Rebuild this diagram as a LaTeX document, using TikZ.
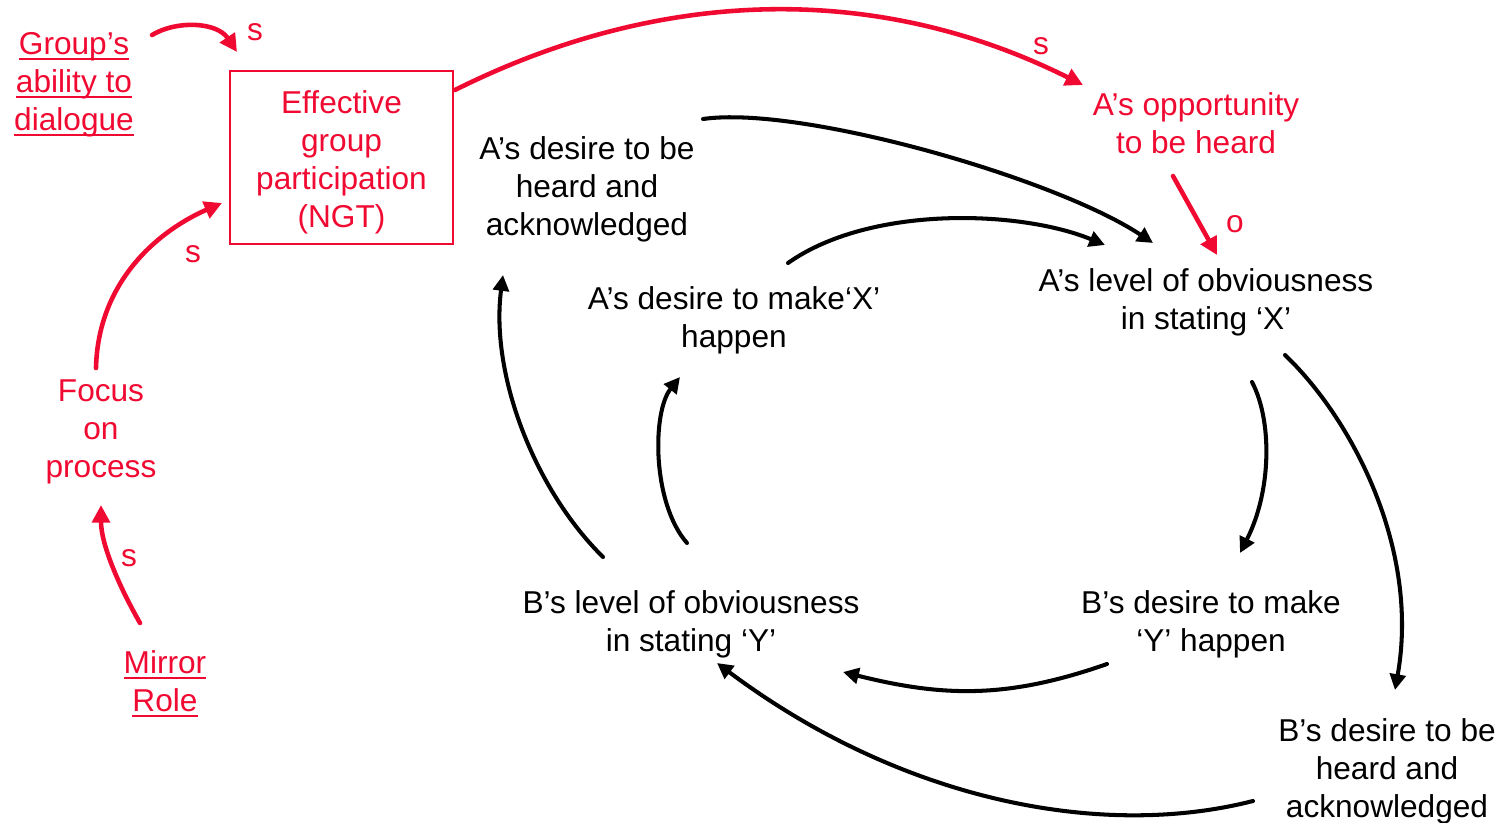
\documentclass[tikz,border=0pt]{standalone}
\usepackage{fontspec}
\setmainfont{Liberation Sans}
\usetikzlibrary{arrows.meta}
\definecolor{cldred}{RGB}{240,10,50}
\newcommand{\ulword}[1]{\setbox0\hbox{#1}\rlap{\rule[-3.3pt]{\wd0}{1.3pt}}\box0}
\newcommand{\tpad}{\rule{0pt}{17pt}}
\begin{document}
\begin{tikzpicture}[x=0.02cm,y=-0.02cm,
	every node/.style={font=\fontsize{18}{21.6}\selectfont,align=center,inner sep=0pt},
	rtxt/.style={text=cldred},
	rarr/.style={cldred,line width=2.6pt,line cap=round,-{Triangle[length=10pt,width=10pt]}},
	barr/.style={black,line width=2.3pt,line cap=round,-{Triangle[length=9pt,width=9pt]}}]
				\useasboundingbox (0,0) rectangle (1501,822);
				\node[rtxt] (grp) at (74,80) {\rule{0pt}{17.6pt}\ulword{Group’s}\\\ulword{ability to}\\\ulword{dialogue}};
				\node[rtxt,draw=cldred,line width=1.1pt,minimum width=4.46cm,minimum height=3.46cm] (ngt) at (341.5,157.5) {\rule{0pt}{19pt}Effective\\group\\participation\\(NGT)};
				\node[rtxt] (focus) at (101,427) {\rule{0pt}{17.6pt}Focus\\on\\process};
				\node[rtxt] (mirror) at (165,680) {\tpad\ulword{Mirror}\\\ulword{Role}};
				\node[rtxt] (aopp) at (1196,123) {A’s opportunity\\to be heard};
				\node (adesire) at (587,186) {\tpad A’s desire to be\\heard and\\acknowledged};
				\node (amake) at (734,317) {\tpad A’s desire to make‘X’\\happen};
				\node (alevel) at (1206,299) {\tpad A’s level of obviousness\\in stating ‘X’};
				\node (blevel) at (691,621) {\tpad B’s level of obviousness\\in stating ‘Y’};
				\node (bmake) at (1211,621) {\tpad B’s desire to make\\‘Y’ happen};
				\node (bdesire) at (1387,768) {\tpad B’s desire to be\\heard and\\acknowledged};
				\node[rtxt] (lblgrp) at (255,32) {s};
				\node[rtxt] (lblngt) at (1041,46) {s};
				\node[rtxt] (lblopp) at (1235,224) {o};
				\node[rtxt] (lblfocus) at (193,254) {s};
				\node[rtxt] (lblmirror) at (129,558) {s};
				\draw[rarr] ([shift={(78,-45)}]grp.center) .. controls +(25,-15) and +(-20,-30) .. ([shift={(-104.5,-105.5)}]ngt.center);
				\draw[rarr] ([shift={(113.5,-67.5)}]ngt.center) .. controls +(206,-103) and +(-206,-103) .. ([shift={(-113,-38)}]aopp.center);
				\draw[rarr] ([shift={(-23,53)}]aopp.center) -- ([shift={(11,-44)}]alevel.center);
				\draw[rarr] ([shift={(-5,-59)}]focus.center) .. controls +(2,-88) and +(-62,27) .. ([shift={(-119.5,45.5)}]ngt.center);
				\draw[rarr] ([shift={(-25,-57)}]mirror.center) .. controls +(-20,-35) and +(0,40) .. ([shift={(0,78)}]focus.center);
				\draw[barr] ([shift={(116,-67)}]adesire.center) .. controls +(97,-14) and +(-98,-65) .. ([shift={(-53,-56)}]alevel.center);
				\draw[barr] ([shift={(54,-54)}]amake.center) .. controls +(82,-58) and +(-85,-35) .. ([shift={(-101,-54)}]alevel.center);
				\draw[barr] ([shift={(46,83)}]alevel.center) .. controls +(20,38) and +(32,-63) .. ([shift={(29,-68)}]bmake.center);
				\draw[barr] ([shift={(79,56)}]alevel.center) .. controls +(68,65) and +(25,-140) .. ([shift={(8,-78)}]bdesire.center);
				\draw[barr] ([shift={(-104,43)}]bmake.center) .. controls +(-100,35) and +(100,25) .. ([shift={(152,51)}]blevel.center);
				\draw[barr] ([shift={(-134,33)}]bdesire.center) .. controls +(-153,39) and +(183,137) .. ([shift={(26,42)}]blevel.center);
				\draw[barr] ([shift={(-88,-64)}]blevel.center) .. controls +(-68,-67) and +(-13,100) .. ([shift={(-84,89)}]adesire.center);
				\draw[barr] ([shift={(-4,-78)}]blevel.center) .. controls +(-35,-40) and +(-28,35) .. ([shift={(-54,60)}]amake.center);
\end{tikzpicture}
\end{document}
